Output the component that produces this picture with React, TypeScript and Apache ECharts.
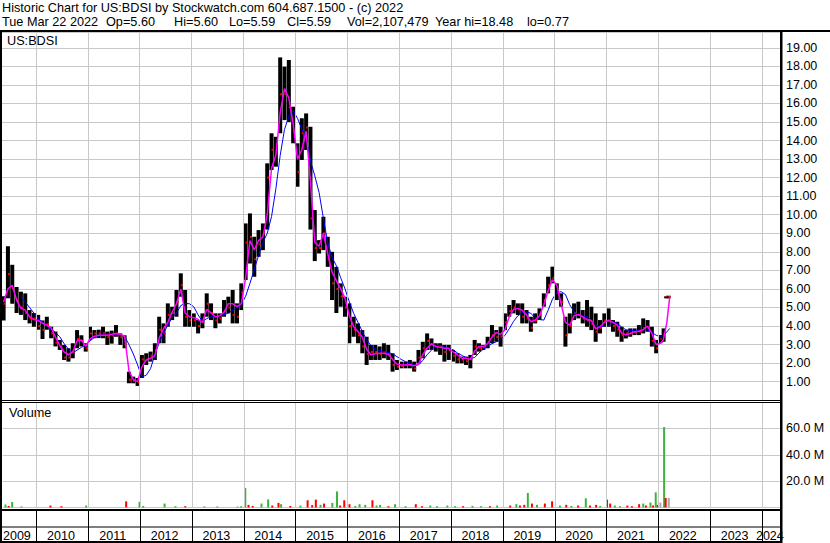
import React, { useEffect, useRef } from 'react';
import * as echarts from 'echarts';

const FONT = '"Liberation Sans", Arial, Helvetica, sans-serif';

// ---------- price data (monthly bars, 2009-05 .. 2022-01) ----------
const PRICE_START = '2009-05';
const priceHigh = [
  5.6, 8.3, 7.3, 6.1, 5.85, 5.76, 4.86, 4.7,
  4.6, 4.3, 4.5, 3.96, 3.7, 3.25, 2.98, 2.8, 3.07, 3.78, 3.5, 3.07,
  3.96, 3.78, 3.8, 3.96, 3.7, 3.75, 4.05, 3.6, 3.5, 1.54, 1.27, 1.2,
  2.44, 2.53, 2.62, 3.07, 4.5, 4.14, 5.22, 5.04, 5.94, 6.84, 5.94, 4.86,
  4.68, 4.32, 4.68, 5.76, 5.22, 4.68, 4.68, 5.4, 5.58, 5.94, 5.22, 6.3,
  9.53, 10.07, 8.81, 9.17, 9.53, 12.77, 14.39, 14.2, 18.48, 17.98, 18.34, 15.82,
  13.85, 15.2, 15.46, 14.74, 10.25, 8.63, 9.89, 8.81, 8.0, 7.19, 6.3, 5.58,
  5.22, 4.5, 4.14, 3.78, 3.42, 2.98, 2.98, 2.9, 3.07, 2.98, 2.53, 2.17,
  2.08, 2.08, 2.17, 2.08, 2.71, 3.15, 3.6, 3.33, 3.07, 3.07, 2.98, 2.98,
  2.71, 2.53, 2.35, 2.35, 2.44, 3.25, 3.07, 2.98, 3.42, 4.05, 3.78, 3.96,
  4.68, 5.13, 5.4, 5.22, 5.22, 4.86, 4.5, 4.68, 4.95, 5.76, 6.66, 7.2,
  6.3, 5.76, 4.5, 4.68, 5.22, 5.31, 4.86, 5.4, 5.04, 4.68, 4.32, 4.68,
  4.95, 4.32, 4.23, 3.96, 3.78, 3.87, 3.87, 4.05, 4.41, 4.32, 3.96, 3.25,
  3.51,
];
const priceLow = [
  4.3, 5.5, 5.2, 4.7, 4.6, 4.32, 4.14, 3.96,
  3.8, 3.3, 3.8, 3.34, 2.9, 2.71, 2.17, 2.08, 2.26, 2.8, 2.9, 2.62,
  3.25, 3.34, 3.35, 3.34, 2.98, 3.05, 3.42, 2.98, 2.8, 0.91, 0.91, 0.77,
  1.2, 1.9, 2.08, 2.17, 3.07, 3.07, 3.96, 4.32, 4.5, 5.58, 3.96, 3.96,
  3.96, 3.6, 3.88, 4.5, 4.32, 3.88, 4.14, 4.5, 4.68, 4.14, 4.14, 4.86,
  6.48, 7.37, 6.66, 7.73, 8.09, 9.2, 12.41, 12.59, 14.39, 15.1, 15.0, 13.85,
  11.51, 12.95, 13.49, 9.2, 7.5, 7.91, 8.09, 7.19, 5.4, 4.7, 5.04, 4.5,
  3.07, 3.42, 3.07, 2.53, 1.9, 2.17, 2.17, 2.17, 2.26, 2.17, 1.54, 1.63,
  1.72, 1.72, 1.72, 1.54, 1.99, 2.26, 2.71, 2.71, 2.62, 2.44, 2.08, 2.17,
  2.08, 1.99, 1.99, 1.9, 1.72, 2.44, 2.62, 2.71, 2.8, 3.07, 3.15, 2.89,
  3.78, 4.5, 4.68, 4.59, 4.14, 4.14, 3.69, 4.14, 4.32, 5.04, 5.76, 6.3,
  5.4, 5.04, 2.89, 3.6, 4.32, 4.41, 4.14, 3.96, 3.78, 3.15, 3.6, 3.96,
  3.96, 3.69, 3.42, 3.15, 3.33, 3.42, 3.51, 3.51, 3.6, 3.69, 2.89, 2.53,
  3.07,
];
const priceClose = [
  5.2, 6.8, 6.0, 5.4, 5.0, 4.7, 4.4, 4.4,
  4.0, 3.8, 4.1, 3.6, 3.1, 2.9, 2.3, 2.3, 2.6, 3.3, 3.2, 2.8,
  3.6, 3.6, 3.6, 3.6, 3.4, 3.5, 3.6, 3.4, 3.0, 1.1, 1.05, 0.95,
  2.2, 2.2, 2.4, 2.7, 3.8, 3.6, 4.6, 4.7, 5.3, 6.2, 4.5, 4.3,
  4.3, 4.0, 4.2, 5.2, 4.7, 4.3, 4.4, 4.8, 5.0, 4.6, 4.5, 5.8,
  8.5, 8.8, 7.6, 8.4, 9.0, 12.0, 13.5, 13.8, 16.5, 16.5, 15.8, 14.5,
  12.3, 14.4, 14.7, 9.8, 8.2, 8.2, 9.0, 7.6, 6.3, 6.0, 5.6, 5.0,
  4.0, 3.8, 3.5, 2.9, 2.5, 2.6, 2.6, 2.5, 2.6, 2.5, 1.9, 1.8,
  1.85, 1.9, 1.9, 1.7, 2.3, 2.8, 3.2, 3.0, 2.9, 2.9, 2.6, 2.7,
  2.4, 2.2, 2.2, 2.1, 2.2, 2.9, 2.8, 2.85, 3.1, 3.5, 3.4, 3.4,
  4.2, 4.8, 5.0, 4.9, 4.5, 4.4, 3.9, 4.3, 4.6, 5.4, 6.2, 6.6,
  5.8, 5.3, 3.5, 4.0, 4.7, 4.6, 4.4, 4.3, 4.1, 3.7, 3.9, 4.3,
  4.3, 4.0, 3.8, 3.5, 3.6, 3.6, 3.65, 3.7, 3.9, 3.9, 3.2, 2.8,
  3.3,
];
// last weeks (takeover at 5.60)
const tailDates = ['2022-02-07', '2022-02-25', '2022-03-14'];
const tailHigh = [3.87, 5.6, 5.6];
const tailLow = [3.15, 5.57, 5.58];
const tailClose = [3.6, 5.59, 5.59];

// short moving average (magenta), monthly from 2009-05
const shortMA = [
  5.3, 6.0, 6.2, 5.4, 4.95, 4.86, 4.5, 4.35,
  4.3, 4.15, 4.05, 3.9, 3.4, 2.95, 2.6, 2.45, 2.6, 3.2, 3.25, 2.9,
  3.3, 3.45, 3.5, 3.5, 3.5, 3.55, 3.6, 3.55, 3.45, 1.6, 1.1, 1.0,
  1.8, 2.17, 2.26, 2.4, 3.35, 3.85, 4.2, 4.75, 5.2, 6.0, 4.7, 4.5,
  4.45, 4.35, 4.2, 4.9, 4.7, 4.5, 4.55, 4.75, 5.2, 5.2, 5.04, 5.2,
  6.6, 8.6, 8.1, 8.6, 8.8, 10.0, 12.5, 13.2, 15.5, 16.8, 16.3, 14.9,
  13.0, 13.5, 14.5, 11.8, 8.5, 8.3, 9.0, 7.9, 6.9, 6.45, 6.0, 5.5,
  4.55, 3.96, 3.7, 3.4, 2.75, 2.45, 2.5, 2.53, 2.53, 2.48, 2.2, 1.95,
  1.9, 1.9, 1.92, 1.85, 1.95, 2.45, 2.8, 3.05, 2.9, 2.85, 2.8, 2.8,
  2.6, 2.45, 2.26, 2.26, 2.2, 2.65, 2.89, 2.89, 3.05, 3.4, 3.65, 3.55,
  3.8, 4.5, 4.9, 4.95, 4.85, 4.6, 4.23, 4.32, 4.55, 5.15, 5.9, 6.5,
  6.2, 5.2, 4.2, 4.05, 4.55, 4.62, 4.5, 4.35, 4.3, 3.85, 3.95, 4.2,
  4.3, 4.2, 4.05, 3.62, 3.52, 3.6, 3.69, 3.72, 3.8, 4.0, 3.6, 3.0,
  3.07,
];
const shortMATailDates = ['2022-02-05', '2022-03-01', '2022-03-22'];
const shortMATail = [3.25, 4.14, 5.55];

// long moving average (blue), monthly from 2009-09
const LONG_MA_START = '2009-09';
const longMA = [
  5.55, 5.3, 5.0, 4.7,
  4.4, 4.2, 4.0, 3.85, 3.65, 3.42, 3.05, 2.75, 2.55, 2.7, 2.85, 2.97,
  3.2, 3.38, 3.45, 3.55, 3.6, 3.55, 3.5, 3.5, 3.45, 3.0, 2.5, 1.9,
  1.25, 1.35, 1.7, 2.45, 3.1, 3.6, 4.05, 4.45, 4.7, 5.1, 5.22, 5.2,
  5.04, 4.6, 4.25, 4.4, 4.5, 4.5, 4.55, 4.6, 4.7, 4.85, 5.0, 5.15,
  5.6, 6.3, 7.05, 7.8, 8.5, 9.0, 9.9, 11.4, 13.2, 14.6, 15.3, 15.6,
  15.2, 14.6, 14.2, 12.9, 12.1, 11.2, 9.8, 8.5, 7.7, 7.25, 6.6, 6.0,
  5.3, 4.68, 4.2, 3.7, 3.25, 2.95, 2.75, 2.68, 2.62, 2.57, 2.5, 2.35,
  2.2, 2.08, 2.0, 1.9, 1.9, 2.15, 2.45, 2.7, 2.95, 2.95, 2.9, 2.8,
  2.72, 2.55, 2.42, 2.3, 2.26, 2.3, 2.55, 2.75, 2.9, 3.05, 3.15, 3.25,
  3.5, 3.85, 4.25, 4.55, 4.72, 4.77, 4.68, 4.45, 4.35, 4.32, 4.85, 5.45,
  5.8, 5.85, 5.7, 5.15, 4.75, 4.6, 4.5, 4.5, 4.3, 4.05, 3.96, 4.0,
  4.05, 4.2, 4.15, 3.95, 3.8, 3.76, 3.74, 3.76, 3.8, 3.8, 3.65, 3.5,
  3.42,
];
const longMATailDates = ['2022-02-15', '2022-03-22'];
const longMATail = [3.55, 3.87];

// ---------- volume (millions); u = up (green), d = down (red), n = unchanged (grey) ----------
const volumeDates = [
  '2009-05-27', '2009-06-18', '2009-07-13', '2009-09-16', '2010-04-09', '2010-06-25', '2010-12-16',
  '2011-09-24', '2011-12-27', '2012-01-22', '2012-06-21', '2012-09-06', '2012-11-14', '2013-03-29',
  '2013-06-28', '2013-11-17', '2013-12-13', '2014-01-11', '2014-02-03', '2014-03-04', '2014-05-05',
  '2014-06-21', '2014-07-20', '2014-09-02', '2014-09-20', '2014-11-24', '2015-02-03', '2015-03-26',
  '2015-04-27', '2015-05-23', '2015-06-25', '2015-07-20', '2015-09-16', '2015-10-19', '2015-11-10',
  '2015-12-09', '2016-01-15', '2016-02-25', '2016-03-26', '2016-05-05', '2016-06-25', '2016-07-24',
  '2016-08-18', '2016-10-16', '2016-12-02', '2017-02-14', '2017-04-27', '2017-06-10', '2017-08-07',
  '2017-09-24', '2017-12-05', '2018-01-29', '2018-03-26', '2018-05-31', '2018-07-31', '2018-10-01',
  '2018-11-21', '2019-02-21', '2019-04-05', '2019-05-01', '2019-05-31', '2019-06-25', '2019-07-24',
  '2019-08-29', '2019-10-23', '2019-12-13', '2020-02-06', '2020-03-22', '2020-04-27', '2020-06-14',
  '2020-08-07', '2020-09-06', '2020-10-19', '2020-11-17', '2021-01-04', '2021-01-26', '2021-02-28',
  '2021-04-05', '2021-05-27', '2021-06-28', '2021-08-18', '2021-09-16', '2021-10-05', '2021-11-06',
  '2021-11-24', '2021-12-13', '2021-12-27', '2022-01-15', '2022-02-10', '2022-02-21', '2022-03-15',
];
const volumeMillions = [
  2.3, 1.2, 4.2, 0.8, 1.5, 1.0, 1.5,
  4.7, 4.3, 1.2, 3.0, 1.0, 1.0, 0.8,
  0.8, 0.7, 1.0, 14.7, 2.0, 1.2, 3.0,
  6.2, 1.5, 3.5, 2.5, 1.2, 1.5, 5.5,
  1.8, 6.0, 2.0, 3.0, 3.5, 12.2, 1.5,
  5.5, 2.5, 1.2, 2.5, 2.0, 5.5, 1.5,
  2.0, 1.0, 2.5, 1.0, 2.5, 1.0, 1.5,
  1.0, 1.5, 1.0, 1.0, 1.2, 1.0, 1.0,
  1.5, 1.5, 2.5, 1.5, 2.0, 11.0, 3.0,
  2.0, 3.0, 4.7, 1.5, 2.0, 1.2, 1.5,
  7.0, 1.5, 2.0, 1.2, 6.0, 3.0, 1.5,
  1.0, 1.5, 1.0, 2.5, 3.0, 1.5, 3.8,
  1.5, 11.5, 2.0, 3.8, 61.0, 7.2, 7.2,
];
const volumeDir = [
  'u', 'd', 'u', 'u', 'd', 'd', 'u',
  'd', 'u', 'u', 'u', 'u', 'd', 'u',
  'u', 'u', 'u', 'u', 'd', 'd', 'u',
  'u', 'd', 'd', 'u', 'd', 'u', 'd',
  'd', 'd', 'u', 'd', 'u', 'u', 'd',
  'd', 'd', 'u', 'u', 'u', 'd', 'u',
  'u', 'd', 'u', 'u', 'd', 'd', 'u',
  'u', 'u', 'u', 'd', 'u', 'u', 'd',
  'u', 'd', 'u', 'd', 'd', 'u', 'd',
  'u', 'd', 'd', 'u', 'd', 'u', 'd',
  'u', 'd', 'd', 'u', 'd', 'd', 'u',
  'u', 'd', 'd', 'd', 'u', 'd', 'u',
  'd', 'u', 'd', 'n', 'u', 'd', 'n',
];

// ---------- axes ----------
const X_MIN = 2009.344;
const X_MAX = 2024.346;
const yearStarts = [2010, 2011, 2012, 2013, 2014, 2015, 2016, 2017, 2018, 2019, 2020, 2021, 2022, 2023, 2024];
const yearLabels = [2009, 2010, 2011, 2012, 2013, 2014, 2015, 2016, 2017, 2018, 2019, 2020, 2021, 2022, 2023, 2024];
const PRICE_MAX = 19.85;
const PRICE_STEP = 1;
const VOL_MAX = 80;
const VOL_STEP = 20;

const headerLine1 = 'Historic Chart for US:BDSI by Stockwatch.com 604.687.1500 - (c) 2022';
const headerFields = ['Tue Mar 22 2022', 'Op=5.60', 'Hi=5.60', 'Lo=5.59', 'Cl=5.59', 'Vol=2,107,479', 'Year hi=18.48', 'lo=0.77'];
const headerFieldX = [2, 106, 174, 229, 287, 347, 435, 527];

function monthKeys(start: string, count: number): string[] {
  const [y, m] = start.split('-').map(Number);
  const out: string[] = [];
  for (let i = 0; i < count; i++) {
    const t = y * 12 + (m - 1) + i;
    out.push(`${Math.floor(t / 12)}-${String((t % 12) + 1).padStart(2, '0')}`);
  }
  return out;
}
function toYear(d: string): number {
  const parts = d.split('-').map(Number);
  const y = parts[0];
  const m = parts[1];
  if (parts.length < 3) return y + (m - 0.5) / 12;
  const s = Date.UTC(y, 0, 1);
  const e = Date.UTC(y + 1, 0, 1);
  return y + (Date.UTC(y, m - 1, parts[2]) - s) / (e - s);
}

export default function App() {
  const ref = useRef<HTMLDivElement>(null);
  useEffect(() => {
    if (!ref.current) return;
    const chart = echarts.init(ref.current, null, { renderer: 'svg' });

    const months = monthKeys(PRICE_START, priceHigh.length);
    const priceData = months.map((k, i) => [toYear(k), priceLow[i], priceHigh[i], priceClose[i]]);
    tailDates.forEach((d, i) => priceData.push([toYear(d), tailLow[i], tailHigh[i], tailClose[i]]));

    const shortData = months.map((k, i) => [toYear(k), shortMA[i]]);
    shortMATailDates.forEach((d, i) => shortData.push([toYear(d), shortMATail[i]]));

    const longMonths = monthKeys(LONG_MA_START, longMA.length);
    const longData = longMonths.map((k, i) => [toYear(k), longMA[i]]);
    longMATailDates.forEach((d, i) => longData.push([toYear(d), longMATail[i]]));

    const dirIndex: Record<string, number> = { u: 0, d: 1, n: 2 };
    const volColors = ['#3cb43c', '#ff0000', '#a8a8a8'];
    const volData = volumeDates.map((d, i) => [toYear(d), volumeMillions[i], dirIndex[volumeDir[i]]]);

    const gridMark = {
      silent: true,
      symbol: ['none', 'none'],
      label: { show: false },
      lineStyle: { color: '#c8c8c8', width: 1, type: 'solid' },
      emphasis: { disabled: true },
      data: yearStarts.map((y) => ({ xAxis: y })),
    };

    const labelVals = yearLabels.map((y) => (y === 2009 ? 2009.62 : y === 2024 ? 2024.15 : y + 0.47));

    const text = (t: string, x: number, y: number, size = 12.7) => ({
      type: 'text',
      x,
      y,
      silent: true,
      style: { text: t, font: `${size}px ${FONT}`, fill: '#000', verticalAlign: 'middle', align: 'left' },
    });
    const rect = (x: number, y: number, w: number, h: number) => ({
      type: 'rect',
      silent: true,
      shape: { x, y, width: w, height: h },
      style: { fill: '#000' },
      z: 100,
    });

    chart.setOption({
      animation: false,
      backgroundColor: '#fff',
      grid: [
        { left: 2, top: 32, width: 778, height: 368.2 },
        { left: 2, top: 402, width: 778, height: 105.5 },
      ],
      xAxis: [
        {
          gridIndex: 0, type: 'value', min: X_MIN, max: X_MAX,
          axisLine: { show: false }, axisTick: { show: false }, axisLabel: { show: false }, splitLine: { show: false },
        },
        {
          gridIndex: 1, type: 'value', min: X_MIN, max: X_MAX, offset: 2,
          axisLine: { show: true, onZero: false, lineStyle: { color: '#000', width: 2 } },
          axisTick: { show: true, customValues: yearStarts, length: 33, lineStyle: { color: '#000', width: 1 } },
          axisLabel: {
            show: true, customValues: labelVals, margin: 20,
            formatter: (v: number) => String(Math.floor(v)),
            fontSize: 12.5, fontFamily: FONT, color: '#000',
          },
          splitLine: { show: false },
        },
      ],
      yAxis: [
        {
          gridIndex: 0, type: 'value', position: 'right', min: 0, max: PRICE_MAX, interval: PRICE_STEP,
          axisLine: { show: false }, axisTick: { show: false },
          axisLabel: {
            showMinLabel: false, showMaxLabel: false, margin: 6,
            formatter: (v: number) => v.toFixed(2),
            fontSize: 12.5, fontFamily: FONT, color: '#000',
          },
          splitLine: { show: true, lineStyle: { color: '#c8c8c8', width: 1 } },
        },
        {
          gridIndex: 1, type: 'value', position: 'right', min: 0, max: VOL_MAX, interval: VOL_STEP,
          axisLine: { show: false }, axisTick: { show: false },
          axisLabel: {
            showMinLabel: false, showMaxLabel: false, margin: 6,
            formatter: (v: number) => v.toFixed(1) + ' M',
            fontSize: 12.5, fontFamily: FONT, color: '#000',
          },
          splitLine: { show: true, lineStyle: { color: '#c8c8c8', width: 1 } },
        },
      ],
      series: [
        {
          type: 'line', xAxisIndex: 0, yAxisIndex: 0, data: [[X_MIN, -5]], showSymbol: false,
          lineStyle: { opacity: 0 }, silent: true, z: 1, markLine: gridMark,
        },
        {
          type: 'line', xAxisIndex: 1, yAxisIndex: 1, data: [[X_MIN, -5]], showSymbol: false,
          lineStyle: { opacity: 0 }, silent: true, z: 1, markLine: gridMark,
        },
        {
          type: 'custom', xAxisIndex: 0, yAxisIndex: 0, z: 3, silent: true,
          data: priceData,
          encode: { x: 0, y: [1, 2] },
          renderItem: (params: any, api: any) => {
            const x = api.value(0);
            const pLo = api.coord([x, api.value(1)]);
            const pHi = api.coord([x, api.value(2)]);
            const pCl = api.coord([x, api.value(3)]);
            const h = Math.max(pLo[1] - pHi[1], 2);
            return {
              type: 'group',
              children: [
                { type: 'rect', shape: { x: pHi[0] - 2, y: pHi[1], width: 4, height: h }, style: { fill: '#000' } },
                { type: 'rect', shape: { x: pCl[0], y: pCl[1] - 1, width: 2, height: 2 }, style: { fill: '#ff0000' } },
              ],
            };
          },
        },
        {
          type: 'line', xAxisIndex: 0, yAxisIndex: 0, data: longData, showSymbol: false, silent: true, z: 4,
          lineStyle: { color: '#0000ff', width: 1 },
        },
        {
          type: 'line', xAxisIndex: 0, yAxisIndex: 0, data: shortData, showSymbol: false, silent: true, z: 5,
          lineStyle: { color: '#ff00ff', width: 1.5 },
        },
        {
          type: 'custom', xAxisIndex: 1, yAxisIndex: 1, z: 3, silent: true,
          data: volData,
          encode: { x: 0, y: 1 },
          renderItem: (params: any, api: any) => {
            const x = api.value(0);
            const p0 = api.coord([x, 0]);
            const p1 = api.coord([x, api.value(1)]);
            return {
              type: 'rect',
              shape: { x: p0[0] - 1, y: p1[1], width: 2, height: p0[1] - p1[1] },
              style: { fill: volColors[api.value(2)] },
            };
          },
        },
      ],
      graphic: [
        text(headerLine1, 2, 7.5),
        ...headerFields.map((t, i) => text(t, headerFieldX[i], 22)),
        text('US:BDSI', 7, 41),
        text('Volume', 9, 413),
        rect(0, 30, 830, 2),
        rect(0, 30, 2, 513),
        rect(780, 30, 2.5, 513),
        rect(0, 400, 782, 1),
        rect(0, 402, 782, 1),
        rect(0, 526.5, 782, 1),
        rect(0, 541, 782, 2),
      ],
    });
    return () => chart.dispose();
  }, []);
  return <div ref={ref} style={{ position: 'fixed', left: 0, top: 0, width: 830, height: 543, background: '#fff' }} />;
}
